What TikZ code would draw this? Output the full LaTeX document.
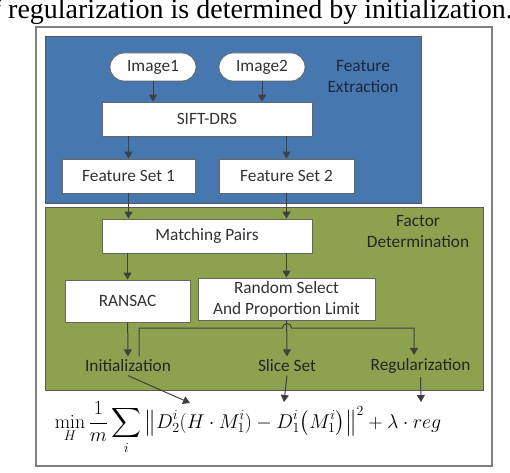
\documentclass[tikz,border=0pt]{standalone}
\usepackage{fix-cm}
\usepackage{amsmath}
\usepackage[no-math]{fontspec}
\setmainfont{Carlito}
\newfontfamily\capfont{Liberation Serif}
\usetikzlibrary{arrows.meta}

\definecolor{featblue}{RGB}{70,119,174}
\definecolor{factgreen}{RGB}{142,161,79}
\definecolor{linegray}{RGB}{64,64,64}
\definecolor{featnavy}{RGB}{28,40,62}

\begin{document}
\begin{tikzpicture}[x=1pt,y=1pt,
  every node/.style={font=\fontsize{17.3}{21}\selectfont},
  box/.style={draw=gray!80!black,fill=white,line width=0.8pt,inner sep=0pt,text=black!80},
  pill/.style={box,rounded corners=14pt,minimum width=86pt,minimum height=28pt},
  arr/.style={draw=linegray,line width=1pt,arrows=-{Triangle[length=7pt,width=8pt]}}]

\useasboundingbox (0,0) rectangle (510,472);

\begin{scope}
\clip (0,0) rectangle (510,472);
\node [anchor=base east,inner sep=0pt,font=\capfont\fontsize{28}{30}\selectfont] (caption) at (513,453) {f regularization is determined by initialization.};
\end{scope}

\draw [gray,line width=1.2pt] (36,6) -- (492,6) -- (492,445) -- (36,445) -- cycle;

\draw [fill=featblue,draw=gray!70!black,line width=0.8pt] (45,269) -- (421,269) -- (421,436) -- (45,436) -- cycle;
\draw [fill=factgreen,draw=gray!70!black,line width=0.8pt] (45,82) -- (483,82) -- (483,265) -- (45,265) -- cycle;

% feature extraction
\node [pill] (img1) at (153,405) {Image1};
\node [pill] (img2) at (262,405) {Image2};
\node [box,minimum width=210pt,minimum height=34pt] (sift) at (207,353) {SIFT-DRS};
\node [box,minimum width=133pt,minimum height=34pt] (fs1) at (128.5,296) {Feature Set 1};
\node [box,minimum width=135pt,minimum height=34pt] (fs2) at (286.5,296) {Feature Set 2};
\node [align=center,text=featnavy] (fe) at (363,395) {Feature\\Extraction};

% factor determination
\node [box,minimum width=210pt,minimum height=34pt] (match) at (207,236) {Matching Pairs};
\node [box,minimum width=125pt,minimum height=42pt] (ransac) at (127.5,171) {RANSAC};
\node [box,minimum width=177pt,minimum height=42pt,align=center] (rand) at (286.5,173) {Random Select\\And Proportion Limit};
\node [align=center,text=black!85] (fd) at (418,240) {Factor\\Determination};
\node [text=black!85] (init) at (128,106) {Initialization};
\node [text=black!85] (slice) at (287,106) {Slice Set};
\node [text=black!85] (reg) at (420.5,106) {Regularization};

\node [anchor=base,font=\fontsize{19.9}{23}\selectfont] (formula) at (248,44)
  {$\displaystyle \min_H \frac{1}{m}\sum_i \big\| D_2^i(H\cdot M_1^i) - D_1^i\big(M_1^i\big)\big\|^2 + \lambda\cdot reg$};

\coordinate (brL) at (139,144);
\coordinate (hopA) at (282.5,144);
\coordinate (brR) at (414,144);
\coordinate (tInit) at (190,69);
\coordinate (tSlice) at (284,70);
\coordinate (tReg) at (421,70);

\draw [arr] (img1) -- (img1 |- sift.north);
\draw [arr] (img2) -- (img2 |- sift.north);
\draw [arr] (fs1 |- sift.south) -- (fs1);
\draw [arr] (fs2 |- sift.south) -- (fs2);
\draw [arr] (fs1) -- (fs1 |- match.north);
\draw [arr] (fs2) -- (fs2 |- match.north);
\draw [arr] (ransac |- match.south) -- (ransac);
\draw [arr] (rand |- match.south) -- (rand);
\draw [arr] (ransac) -- (init);
\draw [arr] (rand) -- (slice);
\draw [arr] (brL |- init.north) -- (brL) -- (hopA) arc [start angle=180,end angle=0,radius=4.5] -- (brR) -- (brR |- reg.north);

\draw [arr] (init.south) -- (tInit);
\draw [arr] (slice.south) -- (tSlice);
\draw [arr] (reg.south) -- (tReg);

\end{tikzpicture}
\end{document}
